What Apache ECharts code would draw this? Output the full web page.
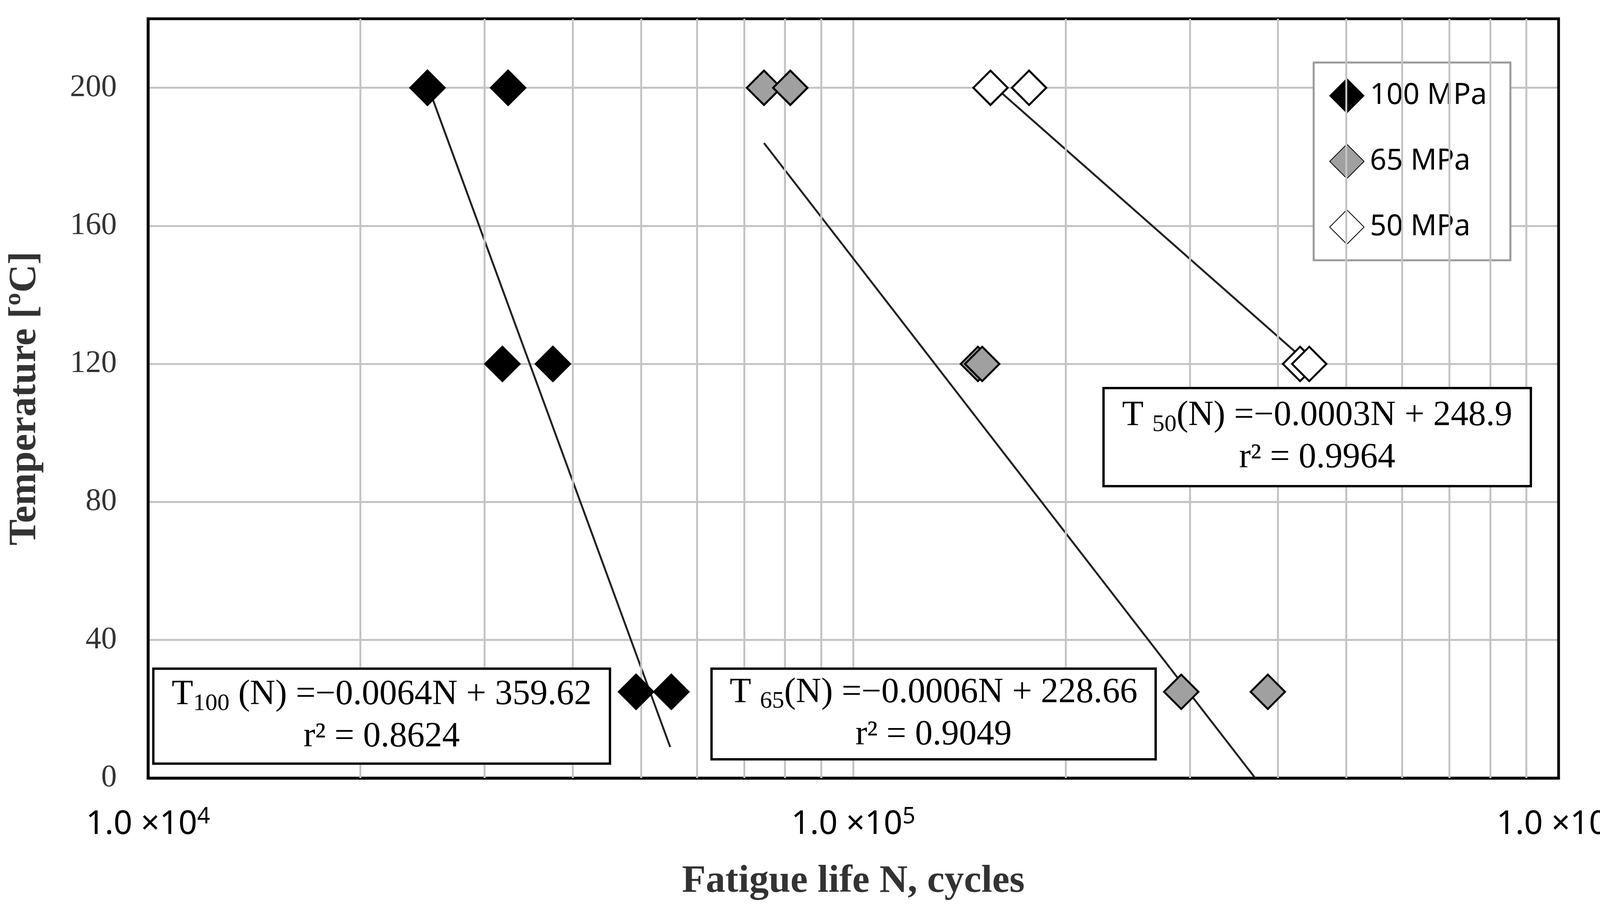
<!DOCTYPE html>
<html>
<head>
<meta charset="UTF-8">
<script src="https://cdn.jsdelivr.net/npm/echarts@6/dist/echarts.min.js"></script>
<style>
  html, body { margin: 0; padding: 0; background: #fff; }
  #main { width: 4185px; height: 2326px; }
</style>
</head>
<body>
<div id="main"></div>
<script>
// data points [N, T]
var s100 = [[24900, 200], [32400, 200], [31800, 120], [37500, 120], [49200, 25], [55200, 25]];
var s65 = [[74700, 200], [81400, 200], [150200, 120], [152300, 120], [291700, 25], [387000, 25]];
var s50 = [[156500, 200], [177500, 200], [430000, 120], [443000, 120]];
// trend line ends
var fit100 = [[25300, 197], [55000, 9]];
var fit65 = [[74700, 184], [371400, 0]];
var fit50 = [[159200, 200], [437000, 121]];
var minorX = [2e4, 3e4, 4e4, 5e4, 6e4, 7e4, 8e4, 9e4, 2e5, 3e5, 4e5, 5e5, 6e5, 7e5, 8e5, 9e5];
var legendNames = ['100 MPa', '65 MPa', '50 MPa'];

var chart = echarts.init(document.getElementById('main'));
var serif = 'Liberation Serif';
var sans = 'Noto Sans';
var gridColor = '#c4c4c4';

function pt(name, data, fill) {
  return {
    name: name, type: 'scatter', data: data, symbol: 'diamond', symbolSize: 88, z: 5,
    itemStyle: { color: fill, opacity: 1, borderColor: '#000', borderWidth: 5 }
  };
}
function fit(data) {
  return {
    type: 'line', data: data, showSymbol: false, silent: true, z: 4,
    lineStyle: { color: '#222', width: 5 }
  };
}
function box(cx, top, w, h, l1, l2) {
  return [
    { type: 'rect', shape: { x: cx - w / 2, y: top, width: w, height: h }, z: 20,
      style: { fill: '#fff', stroke: '#000', lineWidth: 6 } },
    { type: 'text', x: cx, y: top + h / 2, z: 21,
      style: { text: l1 + '\n' + l2, align: 'center', verticalAlign: 'middle',
        rich: {
          a: { fontFamily: serif, fontSize: 90, color: '#111', lineHeight: 108 },
          s: { fontFamily: serif, fontSize: 62, color: '#111', padding: [44, 0, 0, 0], lineHeight: 108 }
        } } }
  ];
}

var minorSeries = {
  type: 'line', data: [], silent: true,
  markLine: {
    silent: true, symbol: 'none', label: { show: false },
    lineStyle: { color: gridColor, width: 5, type: 'solid' },
    data: minorX.map(function (v) { return { xAxis: v }; })
  }
};

chart.setOption({
  animation: false,
  grid: { left: 379, right: 195, top: 48, bottom: 335 },
  xAxis: {
    type: 'log', logBase: 10, min: 1e4, max: 1e6,
    name: 'Fatigue life N, cycles', nameLocation: 'middle', nameGap: 215,
    nameTextStyle: { fontFamily: serif, fontWeight: 'bold', fontSize: 100, color: '#333' },
    axisLine: { lineStyle: { color: '#000', width: 7 } },
    axisTick: { show: false },
    splitLine: { show: true, lineStyle: { color: gridColor, width: 5 } },
    axisLabel: {
      margin: 70, color: '#000',
      formatter: function (v) {
        var e = Math.round(Math.log10(v));
        return '{a|1.0 ×10}{s|' + e + '}';
      },
      rich: {
        a: { fontFamily: sans, fontSize: 84, color: '#000' },
        s: { fontFamily: sans, fontSize: 58, color: '#000', padding: [0, 0, 40, 0] }
      }
    }
  },
  yAxis: {
    type: 'value', min: 0, max: 220, interval: 40,
    name: 'Temperature [ºC]', nameLocation: 'middle', nameGap: 265,
    nameTextStyle: { fontFamily: serif, fontWeight: 'bold', fontSize: 100, color: '#333' },
    axisLine: { show: true, lineStyle: { color: '#000', width: 7 } },
    axisTick: { show: false },
    splitLine: { show: true, lineStyle: { color: gridColor, width: 5 } },
    axisLabel: { showMaxLabel: false, margin: 80, fontFamily: serif, fontSize: 80, color: '#333' }
  },
  legend: {
    data: legendNames, orient: 'vertical', left: 3363, top: 160,
    padding: [40, 60, 40, 40], itemGap: 78, itemWidth: 88, itemHeight: 88,
    backgroundColor: '#fff', borderColor: '#999', borderWidth: 5,
    textStyle: { fontFamily: sans, fontSize: 74, color: '#000', padding: [0, 0, 0, 10] }
  },
  graphic: [].concat(
    box(977, 1711, 1169, 243, '{a|T}{s|100}{a| (N) =−0.0064N + 359.62}', '{a|r² = 0.8624}'),
    box(2390, 1711, 1137, 232, '{a|T }{s|65}{a|(N) =−0.0006N + 228.66}', '{a|r² = 0.9049}'),
    box(3372, 993, 1094, 251, '{a|T }{s|50}{a|(N) =−0.0003N + 248.9}', '{a|r² = 0.9964}'),
    [{ type: 'rect', shape: { x: 379, y: 48, width: 4185 - 379 - 195, height: 2326 - 48 - 335 },
       z: 3, silent: true, style: { fill: 'none', stroke: '#000', lineWidth: 7 } }]
  ),
  series: [
    minorSeries,
    fit(fit100), fit(fit65), fit(fit50),
    pt('100 MPa', s100, '#000'),
    pt('65 MPa', s65, '#a0a0a0'),
    pt('50 MPa', s50, '#fff')
  ]
});
</script>
</body>
</html>
